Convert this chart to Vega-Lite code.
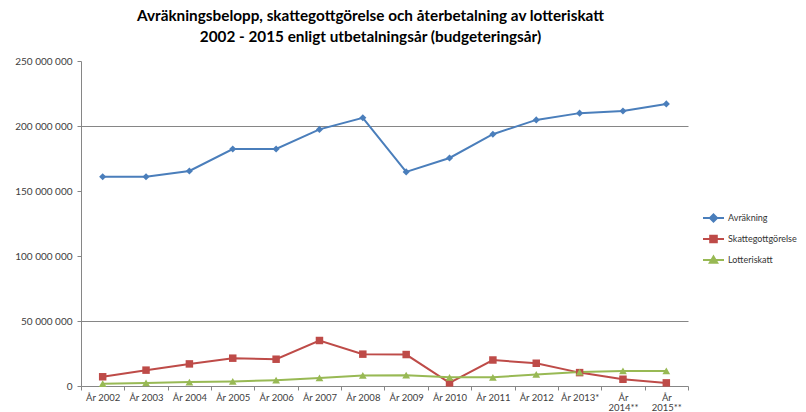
{
  "$schema": "https://vega.github.io/schema/vega-lite/v6.json",
  "width": 607,
  "height": 325,
  "autosize": {"type": "none"},
  "padding": {"left": 81, "top": 61, "right": 118, "bottom": 26},
  "background": "white",
  "config": {"view": {"stroke": null}},
  "title": {
    "text": ["Avräkningsbelopp, skattegottgörelse och återbetalning av lotteriskatt", "2002 - 2015 enligt utbetalningsår (budgeteringsår)"],
    "font": "Lato", "fontSize": 15.3, "fontWeight": "bold", "color": "#000000",
    "lineHeight": 21, "offset": 11, "dx": -14, "anchor": "middle"
  },
  "data": {"values": [
    {"year": "År 2002", "series": "Avräkning", "value": 161000000},
    {"year": "År 2003", "series": "Avräkning", "value": 161000000},
    {"year": "År 2004", "series": "Avräkning", "value": 165400000},
    {"year": "År 2005", "series": "Avräkning", "value": 182300000},
    {"year": "År 2006", "series": "Avräkning", "value": 182300000},
    {"year": "År 2007", "series": "Avräkning", "value": 197400000},
    {"year": "År 2008", "series": "Avräkning", "value": 206300000},
    {"year": "År 2009", "series": "Avräkning", "value": 164700000},
    {"year": "År 2010", "series": "Avräkning", "value": 175400000},
    {"year": "År 2011", "series": "Avräkning", "value": 193700000},
    {"year": "År 2012", "series": "Avräkning", "value": 204700000},
    {"year": "År 2013*", "series": "Avräkning", "value": 209900000},
    {"year": "År 2014**", "series": "Avräkning", "value": 211500000},
    {"year": "År 2015**", "series": "Avräkning", "value": 217000000},
    {"year": "År 2002", "series": "Skattegottgörelse", "value": 7100000},
    {"year": "År 2003", "series": "Skattegottgörelse", "value": 12200000},
    {"year": "År 2004", "series": "Skattegottgörelse", "value": 17000000},
    {"year": "År 2005", "series": "Skattegottgörelse", "value": 21400000},
    {"year": "År 2006", "series": "Skattegottgörelse", "value": 20600000},
    {"year": "År 2007", "series": "Skattegottgörelse", "value": 35000000},
    {"year": "År 2008", "series": "Skattegottgörelse", "value": 24500000},
    {"year": "År 2009", "series": "Skattegottgörelse", "value": 24200000},
    {"year": "År 2010", "series": "Skattegottgörelse", "value": 2400000},
    {"year": "År 2011", "series": "Skattegottgörelse", "value": 20000000},
    {"year": "År 2012", "series": "Skattegottgörelse", "value": 17500000},
    {"year": "År 2013*", "series": "Skattegottgörelse", "value": 10300000},
    {"year": "År 2014**", "series": "Skattegottgörelse", "value": 5200000},
    {"year": "År 2015**", "series": "Skattegottgörelse", "value": 2400000},
    {"year": "År 2002", "series": "Lotteriskatt", "value": 1800000},
    {"year": "År 2003", "series": "Lotteriskatt", "value": 2400000},
    {"year": "År 2004", "series": "Lotteriskatt", "value": 3000000},
    {"year": "År 2005", "series": "Lotteriskatt", "value": 3500000},
    {"year": "År 2006", "series": "Lotteriskatt", "value": 4500000},
    {"year": "År 2007", "series": "Lotteriskatt", "value": 6200000},
    {"year": "År 2008", "series": "Lotteriskatt", "value": 8100000},
    {"year": "År 2009", "series": "Lotteriskatt", "value": 8300000},
    {"year": "År 2010", "series": "Lotteriskatt", "value": 6700000},
    {"year": "År 2011", "series": "Lotteriskatt", "value": 6700000},
    {"year": "År 2012", "series": "Lotteriskatt", "value": 8900000},
    {"year": "År 2013*", "series": "Lotteriskatt", "value": 10700000},
    {"year": "År 2014**", "series": "Lotteriskatt", "value": 11600000},
    {"year": "År 2015**", "series": "Lotteriskatt", "value": 11600000}
  ]},
  "encoding": {
    "x": {
      "field": "year", "type": "nominal", "sort": null,
      "scale": {"type": "band", "paddingInner": 0, "paddingOuter": 0},
      "axis": {
        "title": null, "labelAngle": 0, "labelFont": "Lato", "labelFontSize": 9.5,
        "labelColor": "#404040", "labelPadding": 2, "tickBand": "extent",
        "tickSize": 4, "tickColor": "#868686", "domainColor": "#868686",
        "labelLineHeight": 10,
        "labelExpr": "length(datum.label) > 8 ? split(datum.label, ' ') : datum.label"
      }
    },
    "y": {
      "field": "value", "type": "quantitative",
      "scale": {"domain": [0, 250000000], "nice": false},
      "axis": {
        "title": null, "values": [0, 50000000, 100000000, 150000000, 200000000, 250000000],
        "labelFont": "Lato", "labelFontSize": 10, "labelColor": "#404040",
        "labelPadding": 5, "tickSize": 4, "tickColor": "#868686",
        "domainColor": "#868686", "gridColor": "#868686", "gridWidth": 1,
        "gridOpacity": {"condition": {"test": "datum.value == 50000000 || datum.value == 200000000", "value": 1}, "value": 0},
        "labelExpr": "replace(replace(format(datum.value, ','), ',', ' '), ',', ' ')"
      }
    },
    "color": {
      "field": "series", "type": "nominal",
      "scale": {"domain": ["Avräkning", "Skattegottgörelse", "Lotteriskatt"], "range": ["#4A7EBB", "#BE4B48", "#98B954"]},
      "legend": {
        "title": null, "orient": "none", "legendX": 625.5, "legendY": 150,
        "padding": 0, "symbolSize": 144, "rowPadding": 5, "labelOffset": 7.5,
        "labelFont": "Lato", "labelFontSize": 9, "labelColor": "#333333",
        "symbolStrokeWidth": 2,
        "encode": {
          "symbols": {
            "update": {
              "shape": {"signal": "datum.value === 'Avräkning' ? 'M-1.75,0L1.75,0M0,-0.6L0.6,0L0,0.6L-0.6,0Z' : datum.value === 'Skattegottgörelse' ? 'M-1.75,0L1.75,0M-0.55,-0.55L0.55,-0.55L0.55,0.55L-0.55,0.55Z' : 'M-1.75,0L1.75,0M0,-0.6L0.62,0.45L-0.62,0.45Z'"},
              "fill": {"scale": "color", "field": "value"},
              "stroke": {"scale": "color", "field": "value"},
              "strokeWidth": {"value": 2},
              "opacity": {"value": 1}
            }
          }
        }
      }
    }
  },
  "layer": [
    {"mark": {"type": "line", "strokeWidth": 2}},
    {
      "transform": [{"filter": "datum.series === 'Avräkning'"}],
      "mark": {"type": "point", "filled": true, "opacity": 1, "shape": "diamond", "size": 50}
    },
    {
      "transform": [{"filter": "datum.series === 'Skattegottgörelse'"}],
      "mark": {"type": "point", "filled": true, "opacity": 1, "shape": "square", "size": 56}
    },
    {
      "transform": [{"filter": "datum.series === 'Lotteriskatt'"}],
      "mark": {"type": "point", "filled": true, "opacity": 1, "shape": "triangle-up", "size": 60}
    }
  ]
}
